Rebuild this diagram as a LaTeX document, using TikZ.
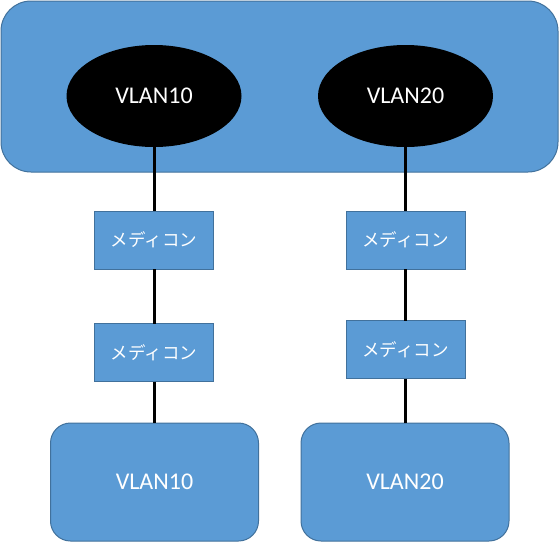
\documentclass[tikz,border=0pt]{standalone}
\usepackage{fontspec}
\setmainfont{Carlito}
\newfontfamily\jpfont{Noto Sans CJK JP}
\usetikzlibrary{shapes.geometric,positioning}
\definecolor{boxblue}{HTML}{5B9BD5}
\definecolor{boxedge}{HTML}{41719C}
\tikzset{
  vlanbox/.style={draw=boxedge,fill=boxblue,line width=1pt,rounded corners=20pt,minimum width=208pt,minimum height=118pt,inner sep=0pt,outer sep=0pt,text=white,font=\fontsize{24pt}{26pt}\selectfont},
  mcbox/.style={draw=boxedge,fill=boxblue,line width=1pt,minimum width=119pt,minimum height=58pt,inner sep=0pt,outer sep=0pt,text=white,font=\jpfont\fontsize{17.5pt}{19pt}\selectfont},
  vlanoval/.style={ellipse,fill=black,minimum width=175pt,minimum height=102pt,inner sep=0pt,outer sep=0pt,text=white,font=\fontsize{24pt}{26pt}\selectfont},
  link/.style={line width=3pt,black}
}
\begin{document}
\begin{tikzpicture}[x=1pt,y=-1pt]
\useasboundingbox (0,0) rectangle (559,542);

% switch
\node (sw) at (279.5,86.5) [draw=boxedge,fill=boxblue,line width=1pt,rounded corners=30pt,minimum width=557pt,minimum height=171pt,inner sep=0pt] {};
\node (v10) at (154,96) [vlanoval] {VLAN10};
\node (v20) at (405.5,96) [vlanoval] {VLAN20};

% media converters
\node (mc1a) at (154,240) [mcbox] {メディコン};
\node (mc1b) at (154,352.5) [mcbox] {メディコン};
\node (mc2a) at (405.5,240) [mcbox] {メディコン};
\node (mc2b) at (405.5,349.5) [mcbox] {メディコン};

% end networks
\node (n10) at (154.5,482) [vlanbox] {VLAN10};
\node (n20) at (405,482) [vlanbox] {VLAN20};

\draw[link] (v10.south) -- (mc1a.north);
\draw[link] (mc1a) -- (mc1b);
\draw[link] (mc1b.south) -- (n10.north -| mc1b.south);
\draw[link] (v20.south) -- (mc2a.north);
\draw[link] (mc2a) -- (mc2b);
\draw[link] (mc2b.south) -- (n20.north -| mc2b.south);
\end{tikzpicture}
\end{document}
